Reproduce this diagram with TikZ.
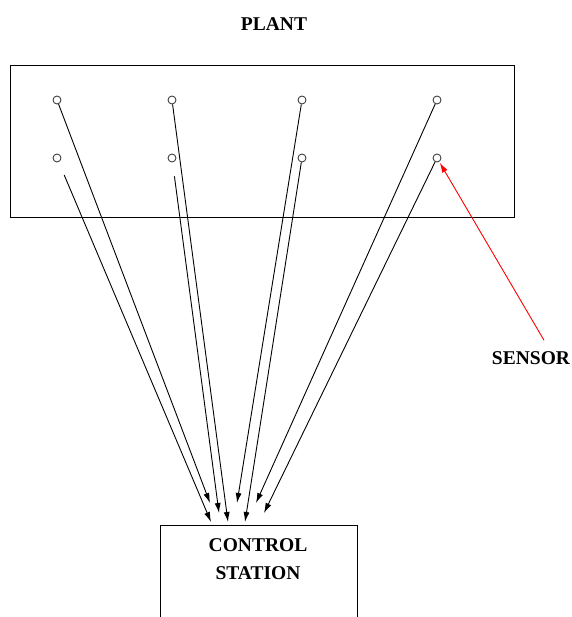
\documentclass[tikz,border=0pt]{standalone}
\usepackage{fontspec}
\setmainfont{Liberation Serif}
\usetikzlibrary{arrows.meta}

\begin{document}
\begin{tikzpicture}[x=1pt, y=-1pt,
    lbl/.style = {font=\fontsize{19.5}{28}\selectfont\bfseries, align=center, inner sep=0pt},
    probe/.style = {circle, draw=black!75, line width=0.9pt, inner sep=0pt, minimum size=8pt},
    wire/.style = {-{Latex[length=10pt, width=6pt]}, line width=0.9pt}]
    \useasboundingbox (0,0) rectangle (571,617);
    \clip (0,0) rectangle (571,617);

    \node [lbl] (title) at (274,24) {PLANT};
    \node [rectangle, draw, line width=1pt, minimum width=504pt, minimum height=152pt] (plant) at (262,142) {};
    \node [rectangle, draw, line width=1pt, minimum width=197pt, minimum height=140pt, anchor=north] (station) at (258.5,525) {};
    \node [lbl] (stationtext) at (258,559) {CONTROL\\STATION};
    \node [lbl] (sensor) at (531,358) {SENSOR};

    % sensors, top row and bottom row
    \node [probe] (s11) at (57,100) {};
    \node [probe] (s12) at (57,158) {};
    \node [probe] (s21) at (172,100) {};
    \node [probe] (s22) at (172,158) {};
    \node [probe] (s31) at (302,100) {};
    \node [probe] (s32) at (302,158) {};
    \node [probe] (s41) at (437,100) {};
    \node [probe] (s42) at (437,158) {};

    % where the wires come in above the station
    \coordinate (e11) at (210,503);
    \coordinate (e12) at (211,522);
    \coordinate (e21) at (228,522);
    \coordinate (e22) at (219,513);
    \coordinate (e31) at (237,503);
    \coordinate (e32) at (245,522);
    \coordinate (e41) at (256,503);
    \coordinate (e42) at (264,513);

    \draw [wire] (s11) -- (e11);
    \draw [wire, shorten <=14pt] (s12) -- (e12);
    \draw [wire] (s21) -- (e21);
    \draw [wire, shorten <=14pt] (s22) -- (e22);
    \draw [wire] (s31) -- (e31);
    \draw [wire] (s32) -- (e32);
    \draw [wire] (s41) -- (e41);
    \draw [wire] (s42) -- (e42);

    \draw [-{Latex[length=10pt, width=6pt]}, red, line width=0.9pt, shorten >=1pt] ([xshift=13pt, yshift=11pt]sensor.north) -- (s42);
\end{tikzpicture}
\end{document}
